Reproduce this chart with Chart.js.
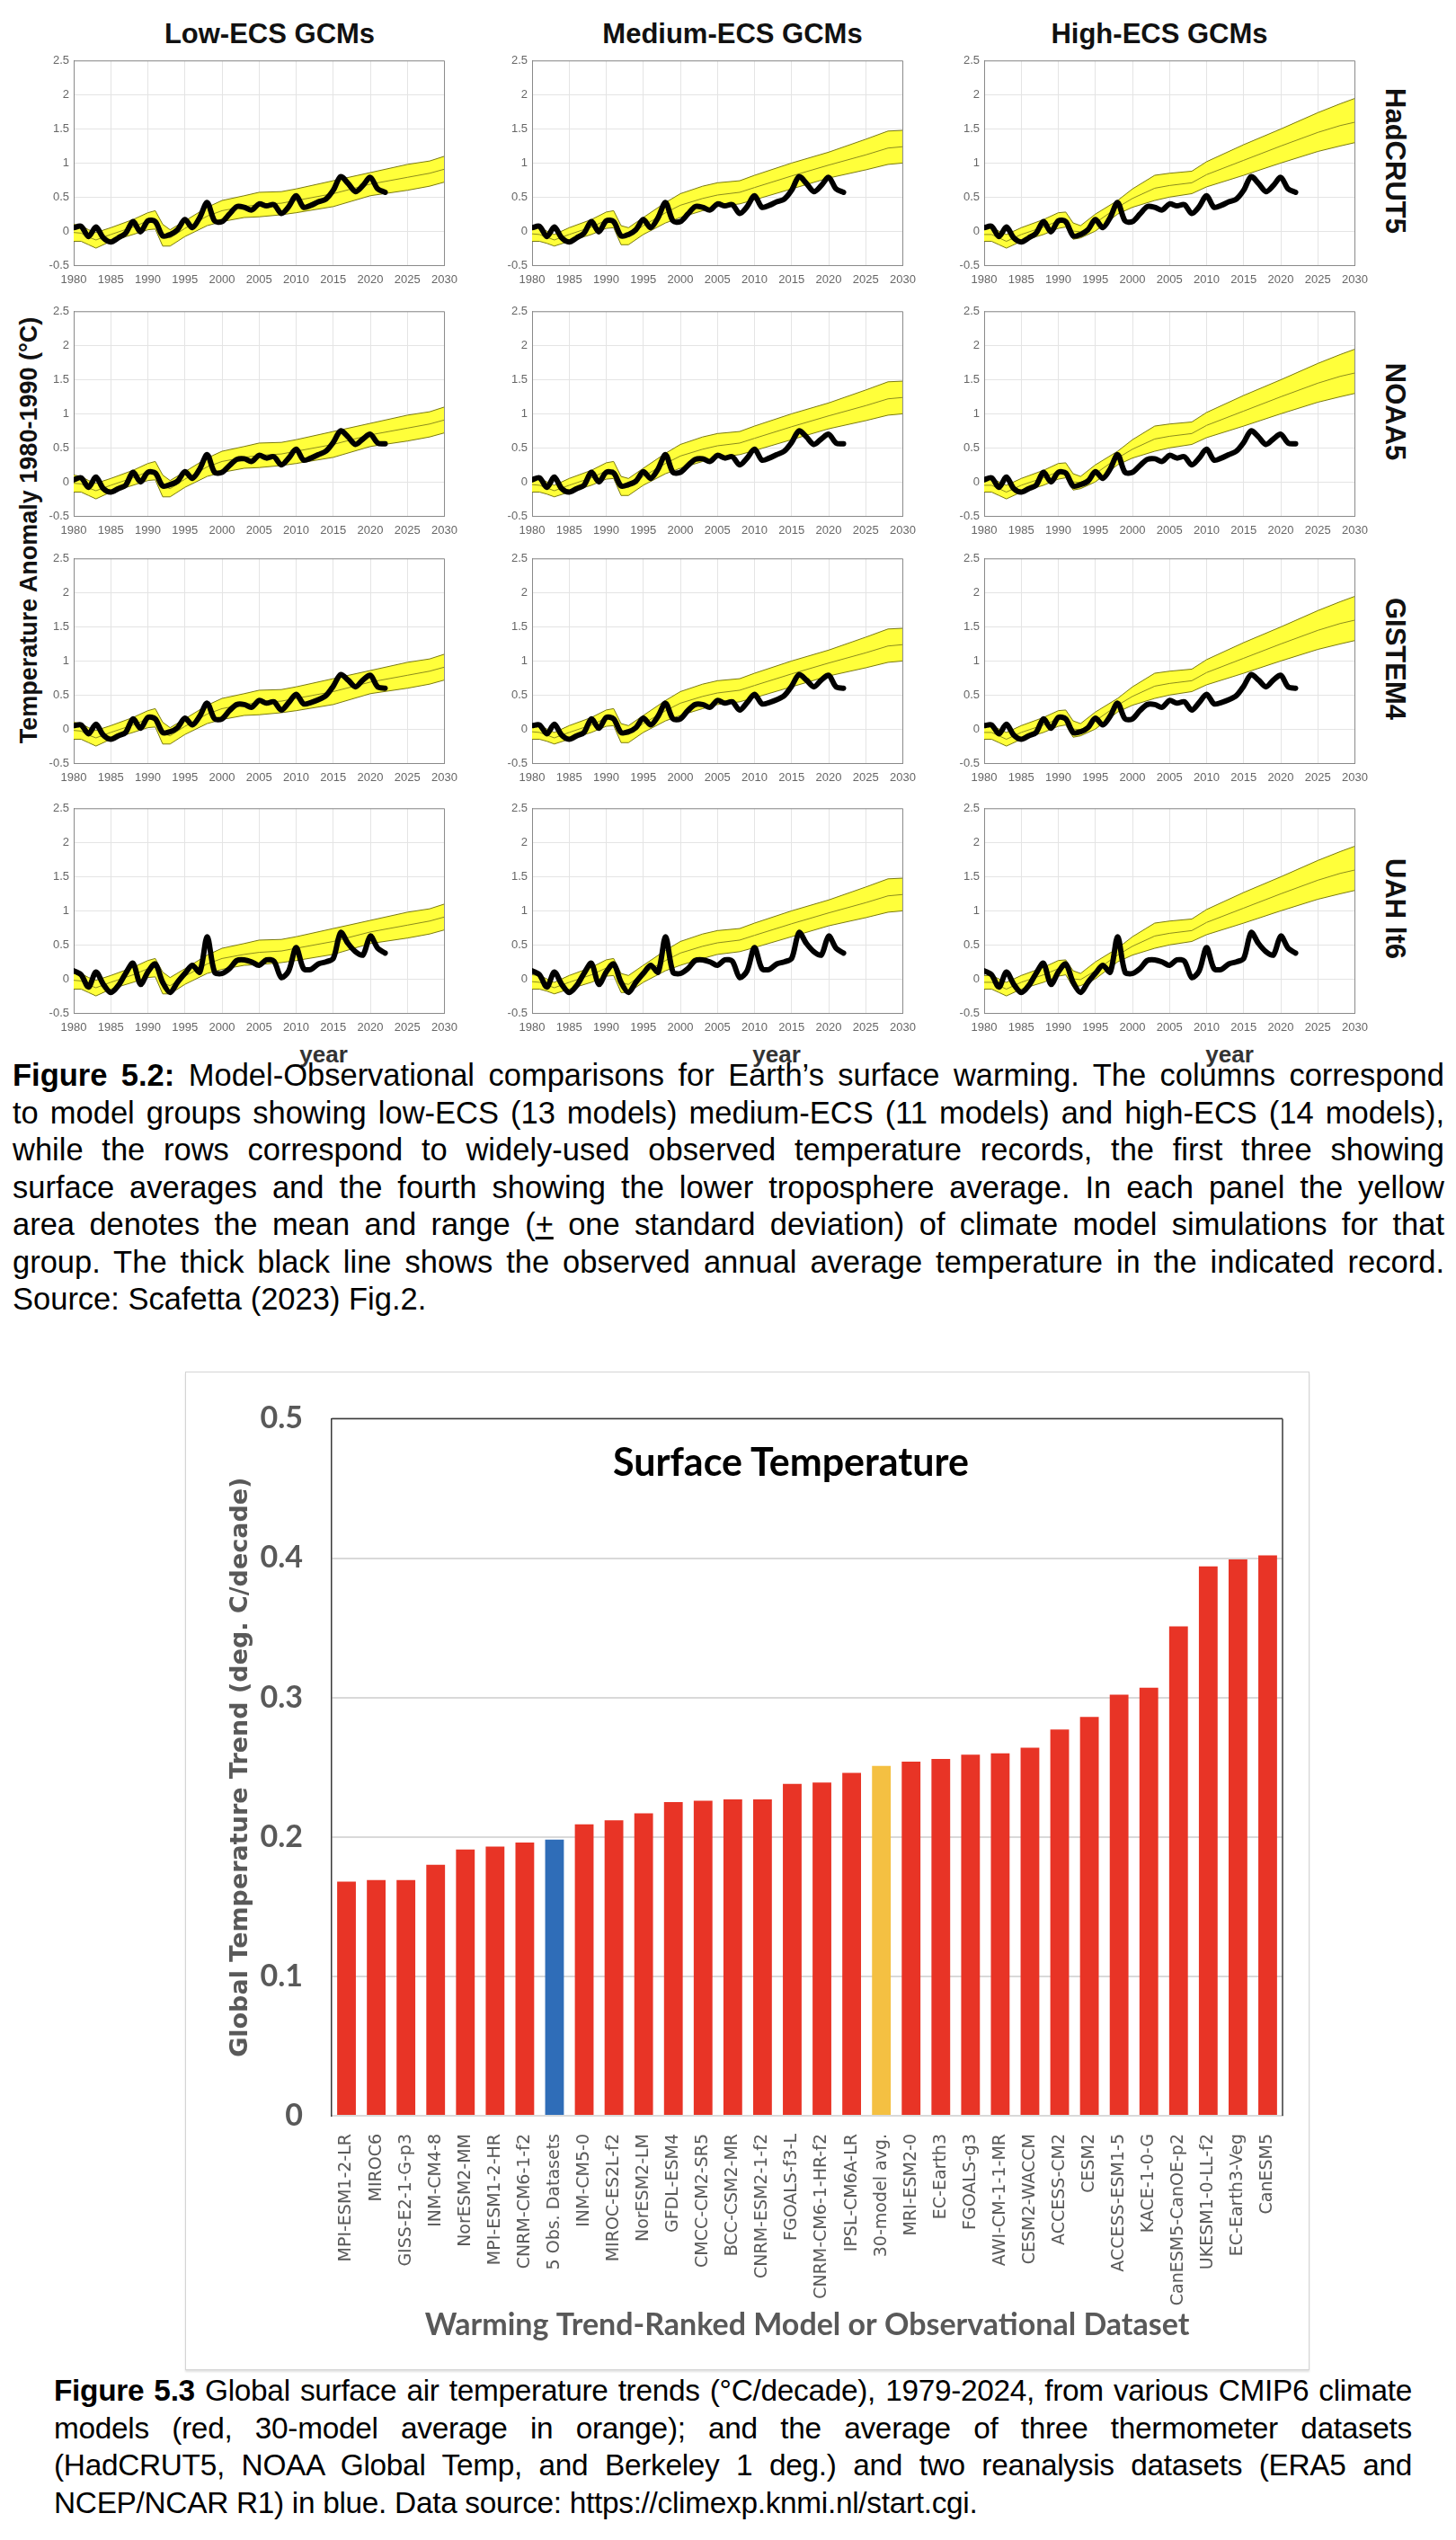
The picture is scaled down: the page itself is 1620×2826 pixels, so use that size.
<!DOCTYPE html>
<html>
<head>
<meta charset="utf-8">
<script src="https://cdn.jsdelivr.net/npm/chart.js@4.4.1/dist/chart.umd.min.js"></script>
<style>
  body { margin: 0; background: #fff; width: 1620px; height: 2826px; position: relative; overflow: hidden;
         font-family: "Liberation Sans", Arial, sans-serif; }
  canvas { position: absolute; }
  .lbl { position: absolute; white-space: nowrap; transform: translate(-50%, -50%); }
  .coltitle { font: bold 31px "Liberation Sans", Arial, sans-serif; color: #111; }
  .rowlabel { font: bold 31px "Liberation Sans", Arial, sans-serif; color: #111; transform: translate(-50%, -50%) rotate(90deg); }
  .ylab { font: bold 27px "Liberation Sans", Arial, sans-serif; color: #111; transform: translate(-50%, -50%) rotate(-90deg); }
  .year { font: bold 26px "Liberation Sans", Arial, sans-serif; color: #333; }
  .cap { position: absolute; line-height: 41.5px; color: #000; }
  .cap div { text-align: justify; text-align-last: justify; }
  .cap div.last { text-align-last: left; }
  #barbox { position: absolute; left: 206px; top: 1526px; width: 1251px; height: 1111px;
            border: 1.5px solid #d4d4d4; box-sizing: border-box; box-shadow: 0 2px 2px rgba(0,0,0,0.12); }
  #bartitle { font: bold 43px Lato, "Open Sans", sans-serif; color: #000; }
</style>
</head>
<body>

<div class="lbl coltitle" style="left:300px;top:38px">Low-ECS GCMs</div>
<div class="lbl coltitle" style="left:815px;top:38px">Medium-ECS GCMs</div>
<div class="lbl coltitle" style="left:1290px;top:38px">High-ECS GCMs</div>

<div class="lbl ylab" style="left:32px;top:590px">Temperature Anomaly 1980-1990 (°C)</div>

<div class="lbl year" style="left:360px;top:1173px">year</div>
<div class="lbl year" style="left:864px;top:1173px">year</div>
<div class="lbl year" style="left:1368px;top:1173px">year</div>

<div class="cap" style="left:14px;top:1176px;width:1593px;font-size:34.5px">
  <div><b>Figure 5.2:</b> Model-Observational comparisons for Earth’s surface warming. The columns correspond</div>
  <div>to model groups showing low-ECS (13 models) medium-ECS (11 models) and high-ECS (14 models),</div>
  <div>while the rows correspond to widely-used observed temperature records, the first three showing</div>
  <div>surface averages and the fourth showing the lower troposphere average. In each panel the yellow</div>
  <div>area denotes the mean and range (<u>+</u> one standard deviation) of climate model simulations for that</div>
  <div>group. The thick black line shows the observed annual average temperature in the indicated record.</div>
  <div class="last">Source: Scafetta (2023) Fig.2.</div>
</div>

<div id="barbox"></div>
<div class="lbl" id="bartitle" style="left:880px;top:1625px">Surface Temperature</div>

<div class="cap" style="left:60px;top:2639px;width:1511px;font-size:33.4px;letter-spacing:-0.3px">
  <div><b>Figure 5.3</b> Global surface air temperature trends (°C/decade), 1979-2024, from various CMIP6 climate</div>
  <div>models (red, 30-model average in orange); and the average of three thermometer datasets</div>
  <div>(HadCRUT5, NOAA Global Temp, and Berkeley 1 deg.) and two reanalysis datasets (ERA5 and</div>
  <div class="last">NCEP/NCAR R1) in blue. Data source: https://climexp.knmi.nl/start.cgi.</div>
</div>

<script>
// ---- Figure 5.2 data ----
const obsYears = [1980,1981,1982,1983,1984,1985,1986,1987,1988,1989,1990,1991,1992,1993,1994,1995,1996,1997,1998,1999,
                  2000,2001,2002,2003,2004,2005,2006,2007,2008,2009,2010,2011,2012,2013,2014,2015,2016,2017,2018,2019,
                  2020,2021,2022];

const hadcrut5 = [0.05,0.07,-0.08,0.06,-0.10,-0.16,-0.10,-0.03,0.14,-0.01,0.15,0.14,-0.07,-0.05,0.02,0.17,0.05,0.20,0.42,0.15,
                  0.14,0.25,0.36,0.35,0.31,0.40,0.37,0.39,0.26,0.36,0.52,0.35,0.38,0.43,0.47,0.60,0.80,0.70,0.58,0.67,
                  0.79,0.62,0.57];
const noaa5 = [0.03,0.06,-0.08,0.07,-0.10,-0.15,-0.10,-0.05,0.14,0.00,0.14,0.13,-0.06,-0.04,0.01,0.15,0.05,0.19,0.40,0.14,
               0.14,0.24,0.33,0.34,0.30,0.39,0.35,0.37,0.25,0.35,0.48,0.32,0.35,0.40,0.45,0.58,0.75,0.66,0.55,0.63,
               0.70,0.57,0.56];
const gistemp4 = [0.05,0.06,-0.07,0.07,-0.09,-0.15,-0.10,-0.05,0.15,0.01,0.17,0.15,-0.05,-0.04,0.02,0.16,0.06,0.19,0.38,0.15,
                  0.15,0.27,0.36,0.36,0.32,0.42,0.38,0.40,0.28,0.39,0.51,0.37,0.39,0.43,0.49,0.63,0.80,0.72,0.62,0.72,
                  0.79,0.62,0.60];
const uahLt6 = [0.12,0.06,-0.12,0.10,-0.08,-0.20,-0.10,0.08,0.23,-0.08,0.10,0.22,-0.05,-0.20,-0.05,0.08,0.20,0.10,0.62,0.10,
                0.08,0.15,0.27,0.28,0.25,0.20,0.28,0.26,0.02,0.12,0.46,0.15,0.14,0.22,0.25,0.30,0.68,0.52,0.40,0.35,
                0.63,0.45,0.38];

const bandYears = [1980,1981,1982,1983,1985,1988,1990,1991,1992,1993,1995,1998,2000,2003,2005,2008,2010,2015,2020,2025,2028,2030];

const lowUpper  = [0.10,0.08,0.02,-0.02,0.05,0.17,0.27,0.30,0.10,0.02,0.15,0.35,0.45,0.52,0.57,0.58,0.62,0.74,0.86,0.98,1.03,1.10];
const lowLower  = [-0.15,-0.15,-0.20,-0.25,-0.15,-0.05,0.02,0.03,-0.22,-0.22,-0.08,0.08,0.14,0.20,0.21,0.24,0.27,0.36,0.52,0.60,0.66,0.72];
const lowMean   = [-0.02,-0.03,-0.09,-0.13,-0.05,0.06,0.15,0.17,-0.06,-0.10,0.04,0.22,0.30,0.36,0.39,0.41,0.45,0.55,0.69,0.79,0.85,0.91];

const medUpper  = [0.06,0.05,0.00,-0.05,0.05,0.17,0.28,0.30,0.08,0.05,0.20,0.42,0.55,0.66,0.71,0.74,0.82,1.00,1.16,1.35,1.47,1.48];
const medLower  = [-0.15,-0.15,-0.18,-0.22,-0.15,-0.05,0.04,0.05,-0.20,-0.20,-0.05,0.12,0.20,0.30,0.36,0.40,0.46,0.62,0.78,0.90,0.98,1.00];
const medMean   = [-0.04,-0.05,-0.09,-0.13,-0.05,0.06,0.16,0.18,-0.06,-0.08,0.08,0.27,0.38,0.48,0.53,0.57,0.64,0.81,0.97,1.12,1.22,1.24];

const highUpper = [0.05,0.05,0.00,-0.05,0.05,0.17,0.27,0.28,0.12,0.08,0.25,0.45,0.62,0.82,0.85,0.88,1.02,1.27,1.50,1.74,1.87,1.95];
const highLower = [-0.15,-0.15,-0.20,-0.25,-0.15,-0.05,0.04,0.06,-0.12,-0.10,0.00,0.25,0.35,0.45,0.50,0.55,0.65,0.82,1.00,1.17,1.25,1.30];
const highMean  = [-0.05,-0.05,-0.10,-0.15,-0.05,0.06,0.15,0.17,0.00,-0.01,0.12,0.35,0.48,0.63,0.67,0.71,0.83,1.04,1.25,1.45,1.55,1.60];

const rowNames = ['HadCRUT5', 'NOAA5', 'GISTEM4', 'UAH lt6'];

// ---- Figure 5.3 data ----
const models = ['MPI-ESM1-2-LR','MIROC6','GISS-E2-1-G-p3','INM-CM4-8','NorESM2-MM','MPI-ESM1-2-HR','CNRM-CM6-1-f2',
                '5 Obs. Datasets','INM-CM5-0','MIROC-ES2L-f2','NorESM2-LM','GFDL-ESM4','CMCC-CM2-SR5','BCC-CSM2-MR',
                'CNRM-ESM2-1-f2','FGOALS-f3-L','CNRM-CM6-1-HR-f2','IPSL-CM6A-LR','30-model avg.','MRI-ESM2-0','EC-Earth3',
                'FGOALS-g3','AWI-CM-1-1-MR','CESM2-WACCM','ACCESS-CM2','CESM2','ACCESS-ESM1-5','KACE-1-0-G',
                'CanESM5-CanOE-p2','UKESM1-0-LL-f2','EC-Earth3-Veg','CanESM5'];
const trends = [0.168,0.169,0.169,0.180,0.191,0.193,0.196,0.198,0.209,0.212,0.217,0.225,0.226,0.227,0.227,0.238,
                0.239,0.246,0.251,0.254,0.256,0.259,0.260,0.264,0.277,0.286,0.302,0.307,0.351,0.394,0.399,0.402];
const yTicksBar = [0, 0.1, 0.2, 0.3, 0.4, 0.5];

// frame around the plot area
const frame = {
    id: 'frame',
    afterDraw(chart, args, opts) {
        const { ctx, chartArea: a } = chart;
        ctx.save();
        ctx.strokeStyle = opts.color;
        ctx.lineWidth = opts.width;
        ctx.beginPath();
        if (opts.top) { ctx.moveTo(a.left, a.top); ctx.lineTo(a.right, a.top); }
        if (opts.right) { ctx.moveTo(a.right, a.top); ctx.lineTo(a.right, a.bottom); }
        if (opts.bottom) { ctx.moveTo(a.left, a.bottom); ctx.lineTo(a.right, a.bottom); }
        if (opts.left) { ctx.moveTo(a.left, a.top); ctx.lineTo(a.left, a.bottom); }
        ctx.stroke();
        ctx.restore();
    }
};

const pts = (xs, ys) => xs.map((x, i) => ({ x: x, y: ys[i] }));

const colLeft = [82, 592, 1095];
const rowTop = [63, 342, 617, 895];
const PW = 416, PH = 232;
const bands = [
    { upper: lowUpper, lower: lowLower, mean: lowMean },
    { upper: medUpper, lower: medLower, mean: medMean },
    { upper: highUpper, lower: highLower, mean: highMean }
];
const obsRows = [hadcrut5, noaa5, gistemp4, uahLt6];

function makePanel(col, row) {
    const band = bands[col];
    const cv = document.createElement('canvas');
    cv.width = PW + 45 + 20;
    cv.height = PH + 8 + 28;
    cv.style.left = (colLeft[col] - 45) + 'px';
    cv.style.top = (rowTop[row] - 8) + 'px';
    document.body.appendChild(cv);

    const tickFont = { family: '"Liberation Sans", Arial, sans-serif', size: 13 };
    new Chart(cv.getContext('2d'), {
        type: 'line',
        data: {
            datasets: [
                { data: pts(obsYears, obsRows[row]), borderColor: '#000', borderWidth: 6, tension: 0.3,
                  borderJoinStyle: 'round', borderCapStyle: 'round', fill: false, order: 1 },
                { data: pts(bandYears, band.upper), borderColor: '#7a7a10', borderWidth: 1,
                  backgroundColor: '#ffff3a', fill: '+1', order: 4 },
                { data: pts(bandYears, band.lower), borderColor: '#7a7a10', borderWidth: 1, fill: false, order: 3 },
                { data: pts(bandYears, band.mean), borderColor: '#8c8c1c', borderWidth: 1, fill: false, order: 2 }
            ]
        },
        options: {
            responsive: false,
            animation: false,
            layout: { padding: { top: 8, right: 20, left: 0, bottom: 0 } },
            elements: { point: { radius: 0 }, line: { tension: 0 } },
            plugins: { legend: { display: false }, tooltip: { enabled: false },
                       frame: { color: '#8a8a8a', width: 1, top: true, right: true } },
            scales: {
                x: { type: 'linear', min: 1980, max: 2030,
                     afterFit: s => { s.height = 28; },
                     ticks: { stepSize: 5, font: tickFont, color: '#666', padding: 9, maxRotation: 0,
                              callback: v => String(v) },
                     grid: { color: '#e4e4e4', drawTicks: false },
                     border: { color: '#8a8a8a' } },
                y: { min: -0.5, max: 2.5,
                     afterFit: s => { s.width = 45; },
                     ticks: { stepSize: 0.5, font: tickFont, color: '#666', padding: 5,
                              callback: v => String(v) },
                     grid: { color: '#e4e4e4', drawTicks: false },
                     border: { color: '#8a8a8a' } }
            }
        },
        plugins: [frame]
    });
}

for (let r = 0; r < 4; r++) {
    for (let c = 0; c < 3; c++) makePanel(c, r);
    const d = document.createElement('div');
    d.className = 'lbl rowlabel';
    d.style.left = '1552px';
    d.style.top = (rowTop[r] + PH / 2) + 'px';
    d.textContent = rowNames[r];
    document.body.appendChild(d);
}

// ---- Figure 5.3 bar chart ----
const barColors = models.map(m => m === '5 Obs. Datasets' ? '#2f6db8' : (m === '30-model avg.' ? '#f4c042' : '#e83426'));
const bc = document.createElement('canvas');
bc.width = 1251; bc.height = 1111;
bc.style.left = '206px'; bc.style.top = '1526px';
document.body.insertBefore(bc, document.getElementById('bartitle'));

new Chart(bc.getContext('2d'), {
    type: 'bar',
    data: {
        labels: models,
        datasets: [{ data: trends, backgroundColor: barColors, barPercentage: 0.63, categoryPercentage: 1 }]
    },
    options: {
        responsive: false,
        animation: false,
        layout: { padding: { top: 31, right: 30, left: 0, bottom: 0 } },
        plugins: { legend: { display: false }, tooltip: { enabled: false },
                   frame: { color: '#3a3a3a', width: 1.5, top: true, right: true } },
        scales: {
            x: {
                afterFit: s => { s.height = 283; },
                grid: { display: false, drawTicks: false },
                border: { color: '#d9d9d9', width: 2 },
                ticks: { autoSkip: false, minRotation: 90, maxRotation: 90, padding: 20, color: '#595959',
                         font: { family: '"DejaVu Sans", Verdana, sans-serif', size: 19 } },
                title: { display: true, text: 'Warming Trend-Ranked Model or Observational Dataset', color: '#595959',
                         font: { family: 'Lato, "Open Sans", sans-serif', size: 34, weight: 'bold' },
                         padding: { top: 0, bottom: 30 } }
            },
            y: {
                min: 0, max: 0.5,
                afterFit: s => { s.width = 163; },
                afterBuildTicks: s => { s.ticks = yTicksBar.map(v => ({ value: v })); },
                grid: { color: '#d9d9d9', lineWidth: 2, drawTicks: false },
                border: { color: '#3a3a3a', width: 1.5 },
                ticks: { padding: 32, color: '#595959',
                         font: { family: 'Lato, "Open Sans", sans-serif', size: 34, weight: 'bold' },
                         callback: v => (v === 0 ? '0' : v.toFixed(1)) },
                title: { display: true, text: 'Global Temperature Trend (deg. C/decade)', color: '#595959',
                         font: { family: '"DejaVu Sans", Verdana, sans-serif', size: 27, weight: 'bold' },
                         padding: { top: 46, bottom: 0 } }
            }
        }
    },
    plugins: [frame]
});
</script>
</body>
</html>
